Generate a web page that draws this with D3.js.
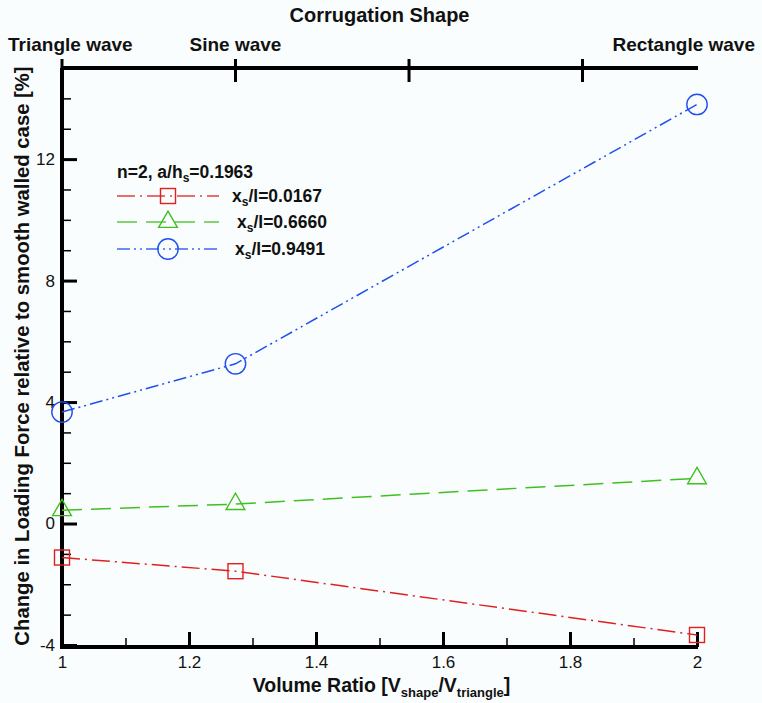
<!DOCTYPE html>
<html>
<head>
<meta charset="utf-8">
<script src="https://cdn.jsdelivr.net/npm/d3@7"></script>
<style>
  body { margin: 0; background: #fafdfd; }
  text { font-family: "Liberation Sans", Arial, sans-serif; }
</style>
</head>
<body>
<div id="chart"></div>
<script>
// volume ratio of each corrugation shape (triangle, sine, rectangle)
var volumeRatio = [1, 1.2732, 2];
var series1 = [-1.12, -1.57, -3.67];   // x_s/l=0.0167
var series2 = [0.44, 0.64, 1.49];      // x_s/l=0.6660
var series3 = [3.67, 5.26, 13.8];      // x_s/l=0.9491
var seriesValues = ["0.0167", "0.6660", "0.9491"];
var xMajorTicks = [1, 1.2, 1.4, 1.6, 1.8, 2];
var xMinorTicks = [1.1, 1.3, 1.5, 1.7, 1.9];
var yMajorTicks = [-4, 0, 4, 8, 12];
var yMinorTicks = [-3, -2, -1, 1, 2, 3, 5, 6, 7, 9, 10, 11, 13, 14];
var shapeTicks = [1, 1.2732, 1.5465, 1.8197];
var shapeLabelPos = [1, 1.2732, 2];
var shapeLabels = ["Triangle wave", "Sine wave", "Rectangle wave"];

var W = 762, H = 703;
var margin = {left: 62, right: 65, top: 68, bottom: 56};

var svg = d3.select("#chart").append("svg")
    .attr("width", W)
    .attr("height", H);

var x = d3.scaleLinear().domain([1, 2]).range([margin.left, W - margin.right]);
var y = d3.scaleLinear().domain([-4, 15]).range([H - margin.bottom - 2, margin.top]);

var styles = [
    {color: "#e0201e", dash: "18,5,2,5", marker: "square"},
    {color: "#40c020", dash: "20,9", marker: "triangle"},
    {color: "#1f4ff0", dash: "13,4,2,4,2,4", marker: "circle"}
];
var allSeries = [series1, series2, series3];

// axes: bottom
var bottomY = y(-4) + 2;
svg.append("g")
    .attr("class", "axis")
    .attr("transform", "translate(0," + bottomY + ")")
    .call(d3.axisBottom(x).tickValues(xMajorTicks).tickSizeInner(-15).tickSizeOuter(0).tickPadding(9)
        .tickFormat(function(d){ return String(d); }));
svg.append("g")
    .attr("class", "axis minor")
    .attr("transform", "translate(0," + bottomY + ")")
    .call(d3.axisBottom(x).tickValues(xMinorTicks).tickSizeInner(-9).tickSizeOuter(0).tickFormat(""));

// axes: left
svg.append("g")
    .attr("class", "axis")
    .attr("transform", "translate(" + x(1) + ",0)")
    .call(d3.axisLeft(y).tickValues(yMajorTicks).tickSizeInner(-15).tickSizeOuter(0).tickPadding(7)
        .tickFormat(function(d){ return String(d); }));
svg.append("g")
    .attr("class", "axis minor")
    .attr("transform", "translate(" + x(1) + ",0)")
    .call(d3.axisLeft(y).tickValues(yMinorTicks).tickSizeInner(-9).tickSizeOuter(0).tickFormat(""));

svg.selectAll(".axis .domain").remove();
svg.selectAll(".axis text")
    .attr("font-size", 17)
    .attr("fill", "#111");
svg.selectAll(".axis line").attr("stroke", "#000").attr("stroke-width", 3);
svg.selectAll(".axis.minor line").attr("stroke-width", 1.5);

// axis lines
svg.append("line")
    .attr("x1", x(1)).attr("x2", x(2) + 1)
    .attr("y1", bottomY).attr("y2", bottomY)
    .attr("stroke", "#000").attr("stroke-width", 4);
svg.append("line")
    .attr("x1", x(1)).attr("x2", x(1))
    .attr("y1", y(15)).attr("y2", bottomY + 2)
    .attr("stroke", "#000").attr("stroke-width", 4);

// top axis: corrugation shape
var topY = y(15);
svg.append("line")
    .attr("x1", x(1)).attr("x2", x(2) + 1)
    .attr("y1", topY).attr("y2", topY)
    .attr("stroke", "#000").attr("stroke-width", 4);
svg.selectAll(".shapeTick")
    .data(shapeTicks)
    .enter().append("line")
    .attr("x1", function(d){ return x(d); })
    .attr("x2", function(d){ return x(d); })
    .attr("y1", topY - 9).attr("y2", topY + 14)
    .attr("stroke", "#000").attr("stroke-width", 3);

svg.selectAll(".shapeLabel")
    .data(shapeLabels)
    .enter().append("text")
    .attr("class", "shapeLabel")
    .attr("y", topY - 17)
    .attr("font-size", 19)
    .attr("font-weight", "bold")
    .attr("fill", "#111")
    .text(function(d){ return d; })
    .each(function(d, i){
        var w = this.getComputedTextLength();
        var cx = x(shapeLabelPos[i]) - w / 2;
        cx = Math.max(8, Math.min(W - 7 - w, cx));
        d3.select(this).attr("x", cx);
    });

svg.append("text")
    .attr("x", (x(1) + x(2)) / 2)
    .attr("y", 22)
    .attr("text-anchor", "middle")
    .attr("font-size", 20)
    .attr("font-weight", "bold")
    .attr("fill", "#111")
    .text("Corrugation Shape");

// axis titles
var xTitle = svg.append("text")
    .attr("x", (x(1) + x(2)) / 2 + 2)
    .attr("y", 692)
    .attr("text-anchor", "middle")
    .attr("font-size", 19.5)
    .attr("font-weight", "bold")
    .attr("fill", "#111");
xTitle.append("tspan").text("Volume Ratio [V");
xTitle.append("tspan").attr("font-size", 13).attr("dy", 5).text("shape");
xTitle.append("tspan").attr("dy", -5).text("/V");
xTitle.append("tspan").attr("font-size", 13).attr("dy", 5).text("triangle");
xTitle.append("tspan").attr("dy", -5).text("]");

svg.append("text")
    .attr("transform", "translate(28.5," + 356 + ") rotate(-90)")
    .attr("text-anchor", "middle")
    .attr("font-size", 20.3)
    .attr("font-weight", "bold")
    .attr("fill", "#111")
    .text("Change in Loading Force relative to smooth walled case [%]");

// markers
function drawMarker(g, type, cx, cy, color, size) {
    if (type == "square") {
        g.append("rect")
            .attr("x", cx - size / 2).attr("y", cy - size / 2)
            .attr("width", size).attr("height", size)
            .attr("fill", "none").attr("stroke", color).attr("stroke-width", 1.4);
    } else if (type == "triangle") {
        var s = size * 1.25;
        var h = s * Math.sqrt(3) / 2;
        g.append("path")
            .attr("d", "M" + cx + "," + (cy - h * 2 / 3) + "L" + (cx + s / 2) + "," + (cy + h / 3) +
                "L" + (cx - s / 2) + "," + (cy + h / 3) + "Z")
            .attr("fill", "none").attr("stroke", color).attr("stroke-width", 1.4);
    } else {
        g.append("circle")
            .attr("cx", cx).attr("cy", cy).attr("r", size * 0.68)
            .attr("fill", "none").attr("stroke", color).attr("stroke-width", 1.4);
    }
}

var line = d3.line()
    .x(function(d, i){ return x(volumeRatio[i]); })
    .y(function(d){ return y(d); });

allSeries.forEach(function(data, k){
    var st = styles[k];
    svg.append("path")
        .datum(data)
        .attr("d", line)
        .attr("fill", "none")
        .attr("stroke", st.color)
        .attr("stroke-width", 1.5)
        .attr("stroke-dasharray", st.dash);
    var g = svg.append("g");
    data.forEach(function(v, i){
        drawMarker(g, st.marker, x(volumeRatio[i]), y(v), st.color, 15);
    });
});

// legend
var legend = svg.append("g").attr("transform", "translate(112,0)");
var head = legend.append("text")
    .attr("x", 5).attr("y", 178)
    .attr("font-size", 17.5)
    .attr("font-weight", "bold")
    .attr("fill", "#111");
head.append("tspan").text("n=2, a/h");
head.append("tspan").attr("font-size", 12).attr("dy", 4).text("s");
head.append("tspan").attr("dy", -4).text("=0.1963");

var rowY = [196, 222, 249];
var labelX = [120, 125, 123];
seriesValues.forEach(function(v, k){
    var st = styles[k];
    legend.append("line")
        .attr("x1", 5).attr("x2", 107)
        .attr("y1", rowY[k]).attr("y2", rowY[k])
        .attr("stroke", st.color)
        .attr("stroke-width", 1.5)
        .attr("stroke-dasharray", st.dash)
        .attr("opacity", 0.85);
    drawMarker(legend, st.marker, 56, rowY[k], st.color, 15);
    var t = legend.append("text")
        .attr("x", labelX[k]).attr("y", rowY[k] + 6)
        .attr("font-size", 17.5)
        .attr("font-weight", "bold")
        .attr("fill", "#111");
    t.append("tspan").text("x");
    t.append("tspan").attr("font-size", 12).attr("dy", 4).text("s");
    t.append("tspan").attr("dy", -4).text("/l=" + v);
});
</script>
</body>
</html>
